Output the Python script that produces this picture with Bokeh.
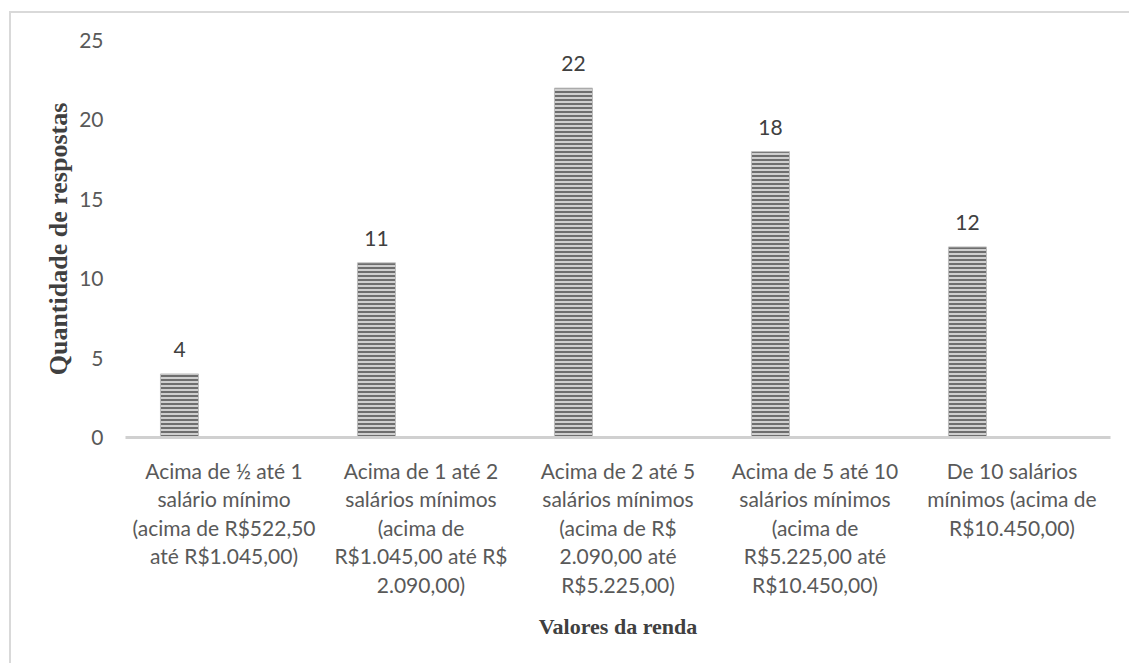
from bokeh.plotting import figure
from bokeh.models import Range1d, FixedTicker, ColumnDataSource
from bokeh.core.properties import value
from bokeh.embed import file_html
from bokeh.resources import INLINE

# Income brackets and number of answers
categories = [
    "Acima de ½ até 1\nsalário mínimo\n(acima de R$522,50\naté R$1.045,00)",
    "Acima de 1 até 2\nsalários mínimos\n(acima de\nR$1.045,00 até R$\n2.090,00)",
    "Acima de 2 até 5\nsalários mínimos\n(acima de R$\n2.090,00 até\nR$5.225,00)",
    "Acima de 5 até 10\nsalários mínimos\n(acima de\nR$5.225,00 até\nR$10.450,00)",
    "De 10 salários\nmínimos (acima de\nR$10.450,00)",
]
respostas = [4, 11, 22, 18, 12]
y_ticks = [0, 5, 10, 15, 20, 25]

positions = list(range(len(categories)))
bar_shift = -0.226
bar_width = 0.193

src = ColumnDataSource(data=dict(
    x=[i + bar_shift for i in positions],
    top=respostas,
    label=[str(v) for v in respostas],
))

p = figure(
    width=1120, height=652,
    x_range=Range1d(-0.5, len(categories) - 0.5),
    y_range=Range1d(0, 25),
    output_backend="svg", toolbar_location=None, tools="",
    min_border_left=114, min_border_right=21,
    min_border_top=27, min_border_bottom=228,
)
p.margin = (11, 0, 0, 9)
p.styles = {"border-left": "2px solid #d9d9d9", "border-top": "2px solid #d9d9d9"}
p.outline_line_color = None
p.xgrid.visible = False
p.ygrid.visible = False
p.background_fill_color = "white"
p.border_fill_color = "white"

p.vbar(
    x="x", top="top", width=bar_width, bottom=0, source=src,
    fill_color="#cfcfcf", line_color="#bdbdbd", line_width=1,
    hatch_pattern="horizontal_line", hatch_color="#555555",
    hatch_scale=4, hatch_weight=1.6,
)

p.text(
    x="x", y="top", text="label", source=src,
    text_align="center", text_baseline="bottom", y_offset=-17,
    text_font=value("Lato"), text_font_size="21px", text_color="#404040",
)

# x axis: multi-line bracket labels
xa = p.xaxis[0]
xa.ticker = FixedTicker(ticks=positions)
xa.major_label_overrides = {i: c for i, c in zip(positions, categories)}
xa.major_label_text_font = "Lato"
xa.major_label_text_font_size = "21px"
xa.major_label_text_color = "#595959"
xa.major_label_text_line_height = 1.14
xa.major_label_standoff = 14
xa.major_tick_line_color = None
xa.minor_tick_line_color = None
xa.axis_line_color = "#d0d0d0"
xa.axis_line_width = 3
xa.axis_label = "Valores da renda"
xa.axis_label_text_font = "Liberation Serif"
xa.axis_label_text_font_style = "bold"
xa.axis_label_text_font_size = "22px"
xa.axis_label_text_color = "#404040"
xa.axis_label_standoff = 14

ya = p.yaxis[0]
ya.ticker = FixedTicker(ticks=y_ticks)
ya.major_label_text_font = "Lato"
ya.major_label_text_font_size = "21px"
ya.major_label_text_color = "#595959"
ya.major_label_standoff = 16
ya.major_tick_line_color = None
ya.minor_tick_line_color = None
ya.axis_line_color = None
ya.axis_label = "Quantidade de respostas"
ya.axis_label_text_font = "Liberation Serif"
ya.axis_label_text_font_style = "bold"
ya.axis_label_text_font_size = "26px"
ya.axis_label_text_color = "#404040"
ya.axis_label_standoff = 3

open("out.html", "w").write(file_html(p, INLINE))
